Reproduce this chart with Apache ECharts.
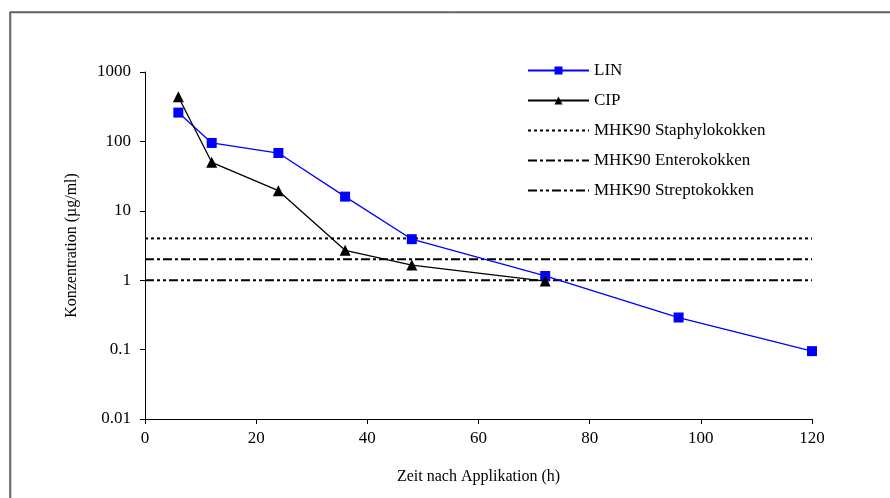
<!DOCTYPE html>
<html>
<head>
<meta charset="utf-8">
<script src="https://cdn.jsdelivr.net/npm/echarts@6/dist/echarts.min.js"></script>
<style>
  html, body { margin: 0; padding: 0; background: #fff; }
  #chart { width: 890px; height: 498px; }
</style>
</head>
<body>
<div id="chart"></div>
<script>
// Hours after application
const hoursLin = [6, 12, 24, 36, 48, 72, 96, 120];
const hoursCip = [6, 12, 24, 36, 48, 72];
// Concentrations (µg/ml)
const valuesLin = [260, 95, 68, 16, 3.9, 1.15, 0.29, 0.095];
const valuesCip = [440, 50, 19.5, 2.7, 1.65, 0.97];
// MIC90 thresholds (µg/ml)
const mhkNames = ['MHK90 Staphylokokken', 'MHK90 Enterokokken', 'MHK90 Streptokokken'];
const mhkValues = [4, 2, 1];
const xRange = [0, 120];

const serif = '"Liberation Serif", "DejaVu Serif", serif';
const fsName = 16;
const fsTick = 17;
const dashes = [[3, 3], [9, 3, 3, 3], [9, 3, 3, 3, 3, 3]];

const chart = echarts.init(document.getElementById('chart'));

const mhkSeries = mhkNames.map((name, i) => ({
  name: name,
  type: 'line',
  data: xRange.map(x => [x, mhkValues[i]]),
  symbol: 'none',
  silent: true,
  itemStyle: { color: '#000' },
  lineStyle: { color: '#000', width: 2, type: dashes[i] },
  z: 1
}));

chart.setOption({
  animation: false,
  textStyle: { fontFamily: serif },
  graphic: [
    { type: 'rect', shape: { x: 11, y: 13, width: 900, height: 500 },
      style: { fill: 'none', stroke: '#aaa', lineWidth: 1 }, silent: true },
    { type: 'rect', shape: { x: 10, y: 12, width: 900, height: 500 },
      style: { fill: 'none', stroke: '#000', lineWidth: 1 }, silent: true }
  ],
  grid: { left: 145, right: 78, top: 72, bottom: 79 },
  legend: {
    orient: 'vertical',
    left: 527,
    top: 62,
    padding: 0,
    itemWidth: 61,
    itemHeight: 10,
    itemGap: 13,
    textStyle: { fontFamily: serif, fontSize: 17, color: '#000' },
    data: [{ name: 'LIN' }, { name: 'CIP' }].concat(
      mhkNames.map(n => ({ name: n, itemStyle: { opacity: 0 } })))
  },
  xAxis: {
    type: 'value',
    min: 0,
    max: 120,
    interval: 20,
    name: 'Zeit nach Applikation (h)',
    nameLocation: 'middle',
    nameGap: 50,
    nameTextStyle: { fontFamily: serif, fontSize: fsName, color: '#000' },
    axisLine: { lineStyle: { color: '#000', width: 1 } },
    axisTick: { show: true, length: 5, lineStyle: { color: '#000' } },
    axisLabel: { fontFamily: serif, fontSize: fsTick, color: '#000', margin: 11 },
    splitLine: { show: false }
  },
  yAxis: {
    type: 'log',
    logBase: 10,
    min: 0.01,
    max: 1000,
    name: 'Konzentration (µg/ml)',
    nameLocation: 'middle',
    nameGap: 65,
    nameTextStyle: { fontFamily: serif, fontSize: fsName, color: '#000' },
    axisLine: { show: true, lineStyle: { color: '#000', width: 1 } },
    axisTick: { show: true, length: 5, lineStyle: { color: '#000' } },
    axisLabel: {
      fontFamily: serif, fontSize: fsTick, color: '#000', margin: 14,
      formatter: v => String(Number(v.toPrecision(3)))
    },
    splitLine: { show: false }
  },
  series: [
    {
      name: 'LIN',
      type: 'line',
      data: hoursLin.map((h, i) => [h, valuesLin[i]]),
      symbol: 'rect',
      symbolSize: 10,
      itemStyle: { color: '#0000ff' },
      lineStyle: { color: '#0000ff', width: 1.3 },
      z: 3
    },
    {
      name: 'CIP',
      type: 'line',
      data: hoursCip.map((h, i) => [h, valuesCip[i]]),
      symbol: 'triangle',
      symbolSize: 11,
      itemStyle: { color: '#000' },
      lineStyle: { color: '#000', width: 1.3 },
      z: 4
    }
  ].concat(mhkSeries)
});
</script>
</body>
</html>
